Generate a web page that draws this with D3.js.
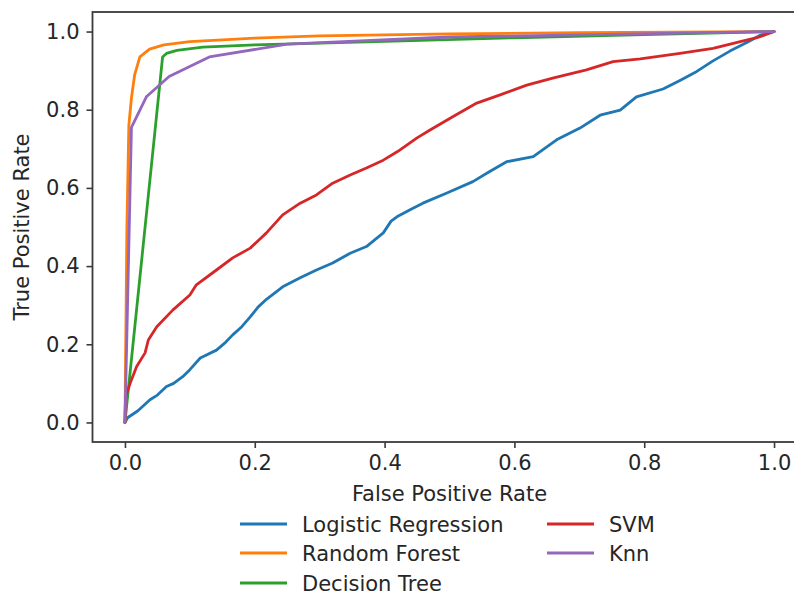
<!DOCTYPE html>
<html>
<head>
<meta charset="utf-8">
<script src="https://cdn.jsdelivr.net/npm/d3@7"></script>
<style>
  body { margin: 0; background: #fff; }
  svg text { font-family: "DejaVu Sans", sans-serif; fill: #262626; }
</style>
</head>
<body>
<svg width="794" height="594"></svg>
<script>
// ROC curves, [false positive rate, true positive rate]
var logistic = [[0,0],[0.004,0.012],[0.02,0.03],[0.0385,0.058],[0.05,0.07],[0.064,0.092],[0.075,0.1],[0.089,0.117],
  [0.1,0.135],[0.116,0.165],[0.141,0.185],[0.155,0.205],[0.166,0.224],[0.18,0.245],[0.193,0.27],[0.205,0.295],
  [0.218,0.315],[0.243,0.347],[0.27,0.37],[0.295,0.39],[0.32,0.408],[0.347,0.433],[0.372,0.45],[0.398,0.485],
  [0.41,0.515],[0.419,0.526],[0.44,0.545],[0.459,0.561],[0.496,0.587],[0.536,0.616],[0.56,0.64],[0.588,0.667],
  [0.629,0.68],[0.665,0.723],[0.701,0.753],[0.732,0.786],[0.763,0.799],[0.788,0.833],[0.829,0.853],[0.855,0.875],
  [0.881,0.898],[0.906,0.925],[0.932,0.95],[0.958,0.972],[0.978,0.99],[1,1]];
var randomForest = [[0,0],[0.003,0.5],[0.006,0.76],[0.01,0.83],[0.015,0.89],[0.023,0.935],[0.038,0.955],
  [0.06,0.966],[0.1,0.974],[0.2,0.983],[0.3,0.989],[0.5,0.994],[0.7,0.997],[1,1]];
var decisionTree = [[0,0],[0.058,0.935],[0.064,0.944],[0.08,0.952],[0.12,0.96],[0.2,0.966],[0.4,0.975],
  [0.6,0.984],[0.8,0.992],[1,1]];
var svm = [[0,0],[0.001,0.066],[0.008,0.1],[0.018,0.143],[0.031,0.178],[0.036,0.211],[0.049,0.245],[0.074,0.288],
  [0.1,0.326],[0.11,0.352],[0.141,0.39],[0.166,0.421],[0.193,0.446],[0.218,0.485],[0.243,0.531],[0.27,0.561],
  [0.295,0.582],[0.32,0.612],[0.347,0.633],[0.372,0.651],[0.398,0.671],[0.42,0.693],[0.45,0.728],[0.47,0.748],
  [0.505,0.782],[0.542,0.817],[0.578,0.838],[0.619,0.863],[0.659,0.881],[0.711,0.902],[0.752,0.923],[0.794,0.93],
  [0.819,0.936],[0.855,0.944],[0.906,0.957],[0.948,0.974],[0.975,0.985],[1,1]];
var knn = [[0,0],[0.01,0.755],[0.033,0.833],[0.068,0.885],[0.13,0.935],[0.25,0.968],[0.5,0.986],[1,1]];

var seriesNames = ["Logistic Regression", "Random Forest", "Decision Tree", "SVM", "Knn"];
var seriesData = [logistic, randomForest, decisionTree, svm, knn];
var colors = ["#1f77b4", "#ff7f0e", "#2ca02c", "#d62728", "#9467bd"];
var ticks = [0, 0.2, 0.4, 0.6, 0.8, 1.0];

var svg = d3.select("svg");
var plotLeft = 92.5, plotRight = 806.5, plotTop = 12, plotBottom = 442;
var fontSize = 21;

// matplotlib style 5% margins
var x = d3.scaleLinear().domain([-0.05, 1.05]).range([plotLeft, plotRight]);
var y = d3.scaleLinear().domain([-0.05, 1.05]).range([plotBottom, plotTop]);

var line = d3.line()
    .x(function (d) { return x(d[0]); })
    .y(function (d) { return y(d[1]); });

svg.append("g").selectAll("path")
    .data(seriesData)
    .enter()
    .append("path")
    .attr("d", line)
    .attr("fill", "none")
    .attr("stroke", function (d, i) { return colors[i]; })
    .attr("stroke-width", 2.8)
    .attr("stroke-linejoin", "round")
    .attr("stroke-linecap", "round");

// frame
svg.append("rect")
    .attr("x", plotLeft).attr("y", plotTop)
    .attr("width", plotRight - plotLeft).attr("height", plotBottom - plotTop)
    .attr("fill", "none")
    .attr("stroke", "#3a3a3a")
    .attr("stroke-width", 1.8);

var xAxis = svg.append("g")
    .attr("transform", "translate(0," + plotBottom + ")")
    .call(d3.axisBottom(x).tickValues(ticks).tickFormat(d3.format(".1f")).tickSize(6).tickPadding(7));
var yAxis = svg.append("g")
    .attr("transform", "translate(" + plotLeft + ",0)")
    .call(d3.axisLeft(y).tickValues(ticks).tickFormat(d3.format(".1f")).tickSize(6).tickPadding(7));

[xAxis, yAxis].forEach(function (g) {
    g.select(".domain").remove();
    g.selectAll(".tick line").attr("stroke", "#3a3a3a").attr("stroke-width", 1.6);
    g.selectAll(".tick text").attr("font-size", fontSize).attr("font-family", "DejaVu Sans").attr("fill", "#262626");
});

svg.append("text")
    .attr("x", (plotLeft + plotRight) / 2)
    .attr("y", 501)
    .attr("text-anchor", "middle")
    .attr("font-size", fontSize)
    .text("False Positive Rate");

svg.append("text")
    .attr("transform", "translate(29," + (plotTop + plotBottom) / 2 + ") rotate(-90)")
    .attr("text-anchor", "middle")
    .attr("font-size", fontSize)
    .text("True Positive Rate");

// legend, two columns, column-major like matplotlib
var legend = svg.append("g");
var rows = 3, colX = [240, 547], rowY = [524, 553, 583];
seriesNames.forEach(function (name, i) {
    var c = Math.floor(i / rows), r = i % rows;
    legend.append("line")
        .attr("x1", colX[c]).attr("x2", colX[c] + 47)
        .attr("y1", rowY[r]).attr("y2", rowY[r])
        .attr("stroke", colors[i])
        .attr("stroke-width", 2.8);
    legend.append("text")
        .attr("x", colX[c] + 62)
        .attr("y", rowY[r] + 7.5)
        .attr("font-size", fontSize)
        .text(name);
});
</script>
</body>
</html>
